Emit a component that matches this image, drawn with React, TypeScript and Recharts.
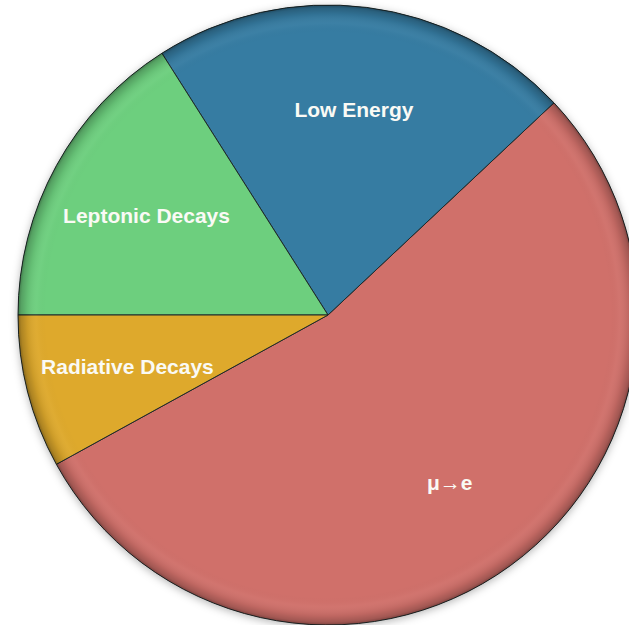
import React from 'react';
import { PieChart, Pie, Cell } from 'recharts';

// Share of each search category, in percent
const categories = ['μ→e', 'Low Energy', 'Leptonic Decays', 'Radiative Decays'];
const shares = [54, 22, 16, 8];
const colors = ['#D0706A', '#367CA2', '#6DCF7E', '#DEA92C'];

const data = categories.map((name, i) => ({ name, value: shares[i] }));
const disc = [{ name: 'disc', value: 1 }];

const CX = 328;
const CY = 315;
const R = 310;
const START = -151.2;
const RAD = Math.PI / 180;

const renderLabel = (props: any) => {
  const { cx, cy, midAngle, outerRadius, name } = props;
  const r = outerRadius * 0.668;
  const x = cx + r * Math.cos(-midAngle * RAD);
  const y = cy + r * Math.sin(-midAngle * RAD);
  return (
    <text
      x={x}
      y={y}
      fill="#FAFAF5"
      textAnchor="middle"
      dominantBaseline="central"
      fontFamily="'Liberation Sans', Arial, sans-serif"
      fontWeight="bold"
      fontSize={21}
    >
      {name}
    </text>
  );
};

export default function App() {
  return (
    <div style={{ position: 'absolute', left: 0, top: 0, width: 629, height: 625 }}>
      <PieChart width={629} height={625} margin={{ top: 0, right: 0, bottom: 0, left: 0 }}>
        <defs>
          <filter id="pieShadow" x="-10%" y="-10%" width="120%" height="120%">
            <feDropShadow dx="0" dy="2" stdDeviation="4" floodColor="#000" floodOpacity="0.3" />
          </filter>
          <radialGradient id="rim" gradientUnits="userSpaceOnUse" cx={CX} cy={CY} r={R}>
            <stop offset="0" stopColor="#000" stopOpacity="0" />
            <stop offset="0.91" stopColor="#000" stopOpacity="0" />
            <stop offset="0.94" stopColor="#fff" stopOpacity="0.03" />
            <stop offset="0.97" stopColor="#000" stopOpacity="0.08" />
            <stop offset="0.99" stopColor="#000" stopOpacity="0.22" />
            <stop offset="1" stopColor="#000" stopOpacity="0.4" />
          </radialGradient>
        </defs>
        {/* soft shadow under the disc */}
        <Pie
          data={disc}
          dataKey="value"
          cx={CX}
          cy={CY}
          outerRadius={R}
          startAngle={0}
          endAngle={360}
          stroke="none"
          isAnimationActive={false}
        >
          <Cell fill="#888" filter="url(#pieShadow)" />
        </Pie>
        {/* coloured slices */}
        <Pie
          data={data}
          dataKey="value"
          nameKey="name"
          cx={CX}
          cy={CY}
          outerRadius={R}
          startAngle={START}
          endAngle={START + 360}
          stroke="#1f2a2a"
          strokeWidth={1}
          isAnimationActive={false}
        >
          {data.map((d, i) => (
            <Cell key={d.name} fill={colors[i]} />
          ))}
        </Pie>
        {/* rim shading and slice labels */}
        <Pie
          data={data}
          dataKey="value"
          nameKey="name"
          cx={CX}
          cy={CY}
          outerRadius={R}
          startAngle={START}
          endAngle={START + 360}
          stroke="none"
          label={renderLabel}
          labelLine={false}
          isAnimationActive={false}
        >
          {data.map((d) => (
            <Cell key={d.name} fill="url(#rim)" />
          ))}
        </Pie>
      </PieChart>
    </div>
  );
}
